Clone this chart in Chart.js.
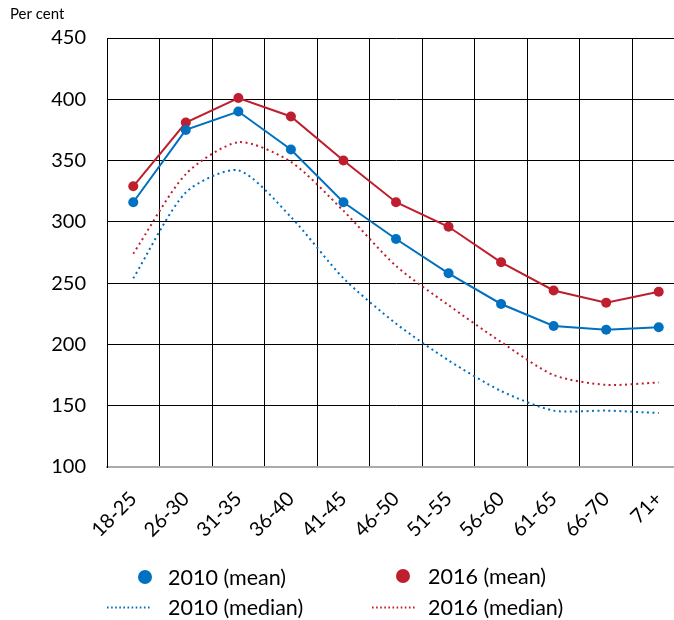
<!DOCTYPE html>
<html>
<head>
<meta charset="utf-8">
<script src="https://cdn.jsdelivr.net/npm/chart.js@4/dist/chart.umd.min.js"></script>
<style>
  html, body { margin: 0; padding: 0; background: #fff; overflow: hidden; }
  #wrap { position: absolute; left: 0; top: 0; width: 700px; height: 620px; }
</style>
</head>
<body>
<div id="wrap"><canvas id="c" width="700" height="620"></canvas></div>
<script>
const categories = ['18-25','26-30','31-35','36-40','41-45','46-50','51-55','56-60','61-65','66-70','71+'];
const mean2010   = [316, 375, 390, 359, 316, 286, 258, 233, 215, 212, 214];
const mean2016   = [329, 381, 401, 386, 350, 316, 296, 267, 244, 234, 243];
const median2010 = [254, 324, 342, 304, 254, 217, 187, 162, 146, 146, 144];
const median2016 = [274, 339, 365, 349, 309, 264, 232, 202, 175, 167, 169];
const yTicks = [100, 150, 200, 250, 300, 350, 400, 450];
const yAxisTitle = 'Per cent';

const BLUE = '#0070C0';
const RED = '#BE1E2D';
const FONT = 'Lato';

const legendPlugin = {
  id: 'customLegend',
  afterDraw(chart) {
    const ctx = chart.ctx;
    const ds = chart.data.datasets;
    ctx.save();
    ctx.font = '15px ' + FONT;
    ctx.fillStyle = '#000';
    ctx.textAlign = 'left';
    ctx.textBaseline = 'middle';
    ctx.fillText(yAxisTitle, 10, 14);

    const items = [
      { d: ds[0], type: 'dot', mx: 145, my: 577, tx: 168 },
      { d: ds[1], type: 'dot', mx: 403, my: 576, tx: 428 },
      { d: ds[2], type: 'line', x0: 107, x1: 152, my: 607.5, tx: 168 },
      { d: ds[3], type: 'line', x0: 372, x1: 417, my: 607.5, tx: 428 }
    ];
    ctx.font = '21.5px ' + FONT;
    items.forEach(it => {
      if (it.type === 'dot') {
        ctx.beginPath();
        ctx.fillStyle = it.d.borderColor;
        ctx.arc(it.mx, it.my, 7, 0, Math.PI * 2);
        ctx.fill();
      } else {
        ctx.beginPath();
        ctx.strokeStyle = it.d.borderColor;
        ctx.lineWidth = 2;
        ctx.setLineDash([1.6, 2.5]);
        ctx.moveTo(it.x0, it.my);
        ctx.lineTo(it.x1, it.my);
        ctx.stroke();
        ctx.setLineDash([]);
      }
      ctx.fillStyle = '#000';
      ctx.textAlign = 'left';
      ctx.textBaseline = 'middle';
      ctx.fillText(it.d.label, it.tx, it.my + 1);
    });
    ctx.restore();
  }
};

new Chart(document.getElementById('c'), {
  type: 'line',
  data: {
    labels: categories,
    datasets: [
      { label: '2010 (mean)', data: mean2010, borderColor: BLUE, backgroundColor: BLUE,
        borderWidth: 2, pointRadius: 5, pointHoverRadius: 5, pointBorderWidth: 0, tension: 0 },
      { label: '2016 (mean)', data: mean2016, borderColor: RED, backgroundColor: RED,
        borderWidth: 2, pointRadius: 5, pointHoverRadius: 5, pointBorderWidth: 0, tension: 0 },
      { label: '2010 (median)', data: median2010, borderColor: BLUE, backgroundColor: BLUE,
        borderWidth: 2, pointRadius: 0, borderDash: [2, 3.5], tension: 0.25 },
      { label: '2016 (median)', data: median2016, borderColor: RED, backgroundColor: RED,
        borderWidth: 2, pointRadius: 0, borderDash: [2, 3.5], tension: 0.25 }
    ]
  },
  options: {
    responsive: false,
    animation: false,
    layout: { padding: { top: 38, right: 15, left: 0, bottom: 0 } },
    plugins: { legend: { display: false }, tooltip: { enabled: false } },
    scales: {
      x: {
        offset: true,
        grid: { offset: true, color: '#000', lineWidth: 1, drawTicks: false },
        border: { display: true, color: '#aaa', width: 2 },
        ticks: { autoSkip: false, minRotation: 45, maxRotation: 45, padding: 20,
                 color: '#000', font: { family: FONT, size: 20 } },
        afterFit(scale) { scale.height = 153; }
      },
      y: {
        min: 100, max: 450,
        afterBuildTicks(scale) { scale.ticks = yTicks.map(v => ({ value: v })); },
        grid: {
          drawTicks: false,
          color: c => (c.tick && c.tick.value === 100) ? '#aaa' : '#000',
          lineWidth: c => (c.tick && c.tick.value === 100) ? 2 : 1
        },
        border: { display: true, color: '#000', width: 1 },
        ticks: { padding: 21, color: '#000', font: { family: FONT, size: 20 } },
        afterFit(scale) { scale.width = 107; }
      }
    }
  },
  plugins: [legendPlugin]
});
</script>
</body>
</html>
